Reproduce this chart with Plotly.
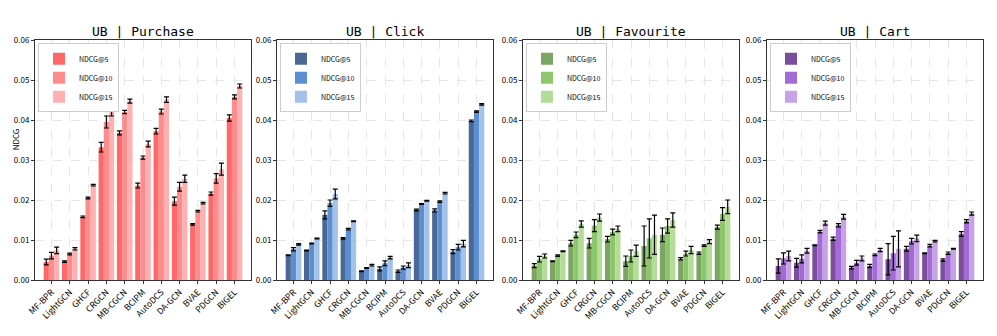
import plotly.graph_objects as go

# methods on the x axis
methods = ["MF-BPR", "LightGCN", "GHCF", "CRGCN", "MB-CGCN", "BCIPM",
           "AutoDCS", "DA-GCN", "BVAE", "PDGCN", "BIGEL"]
metrics = ["NDCG@5", "NDCG@10", "NDCG@15"]
y_ticks = [0.00, 0.01, 0.02, 0.03, 0.04, 0.05, 0.06]

# UB | Purchase
purchase_n5 = [0.0045, 0.0046, 0.0158, 0.0332, 0.0368, 0.0236, 0.0372, 0.0197, 0.0139, 0.0216, 0.0405]
purchase_n10 = [0.0061, 0.0065, 0.0205, 0.0395, 0.0420, 0.0306, 0.0421, 0.0233, 0.0172, 0.0254, 0.0458]
purchase_n15 = [0.0074, 0.0078, 0.0237, 0.0428, 0.0447, 0.0340, 0.0451, 0.0253, 0.0192, 0.0277, 0.0485]
purchase_e5 = [0.0007, 0.0002, 0.0002, 0.0012, 0.0005, 0.0006, 0.0007, 0.0010, 0.0002, 0.0004, 0.0008]
purchase_e10 = [0.0008, 0.0002, 0.0002, 0.0015, 0.0004, 0.0004, 0.0006, 0.0011, 0.0002, 0.0012, 0.0005]
purchase_e15 = [0.0008, 0.0003, 0.0002, 0.0018, 0.0005, 0.0007, 0.0007, 0.0009, 0.0002, 0.0015, 0.0005]

# UB | Click
click_n5 = [0.0062, 0.0074, 0.0163, 0.0104, 0.0022, 0.0028, 0.0022, 0.0175, 0.0174, 0.0071, 0.0398]
click_n10 = [0.0077, 0.0091, 0.0192, 0.0127, 0.0030, 0.0042, 0.0031, 0.0190, 0.0196, 0.0082, 0.0421]
click_n15 = [0.0089, 0.0104, 0.0215, 0.0147, 0.0037, 0.0056, 0.0037, 0.0198, 0.0217, 0.0091, 0.0439]
click_e5 = [0.0001, 0.0001, 0.0010, 0.0002, 0.0001, 0.0005, 0.0003, 0.0002, 0.0004, 0.0005, 0.0002]
click_e10 = [0.0004, 0.0001, 0.0008, 0.0002, 0.0001, 0.0006, 0.0004, 0.0001, 0.0002, 0.0007, 0.0002]
click_e15 = [0.0002, 0.0001, 0.0012, 0.0001, 0.0002, 0.0003, 0.0006, 0.0001, 0.0002, 0.0008, 0.0002]

# UB | Favourite
fav_n5 = [0.0036, 0.0047, 0.0092, 0.0092, 0.0102, 0.0047, 0.0085, 0.0113, 0.0053, 0.0067, 0.0132]
fav_n10 = [0.0052, 0.0061, 0.0113, 0.0136, 0.0120, 0.0060, 0.0104, 0.0135, 0.0066, 0.0086, 0.0165]
fav_n15 = [0.0060, 0.0072, 0.0140, 0.0156, 0.0128, 0.0073, 0.0113, 0.0150, 0.0075, 0.0096, 0.0183]
fav_e5 = [0.0005, 0.0001, 0.0007, 0.0012, 0.0007, 0.0013, 0.0050, 0.0017, 0.0003, 0.0003, 0.0005]
fav_e10 = [0.0007, 0.0002, 0.0007, 0.0015, 0.0007, 0.0015, 0.0049, 0.0018, 0.0006, 0.0002, 0.0016]
fav_e15 = [0.0005, 0.0001, 0.0008, 0.0009, 0.0007, 0.0014, 0.0049, 0.0018, 0.0009, 0.0005, 0.0017]

# UB | Cart
cart_n5 = [0.0035, 0.0043, 0.0087, 0.0103, 0.0031, 0.0035, 0.0052, 0.0078, 0.0067, 0.0050, 0.0115]
cart_n10 = [0.0054, 0.0053, 0.0121, 0.0137, 0.0043, 0.0063, 0.0067, 0.0097, 0.0086, 0.0067, 0.0147]
cart_n15 = [0.0060, 0.0073, 0.0142, 0.0158, 0.0054, 0.0075, 0.0078, 0.0104, 0.0097, 0.0078, 0.0166]
cart_e5 = [0.0018, 0.0011, 0.0001, 0.0004, 0.0003, 0.0004, 0.0039, 0.0006, 0.0001, 0.0003, 0.0006]
cart_e10 = [0.0014, 0.0010, 0.0003, 0.0004, 0.0006, 0.0002, 0.0042, 0.0007, 0.0003, 0.0003, 0.0004]
cart_e15 = [0.0012, 0.0006, 0.0005, 0.0006, 0.0006, 0.0004, 0.0045, 0.0008, 0.0002, 0.0001, 0.0004]

panels = [
    ("UB | Purchase", [purchase_n5, purchase_n10, purchase_n15],
     [purchase_e5, purchase_e10, purchase_e15], ["#ff6868", "#ff8c8c", "#ffb0b0"]),
    ("UB | Click", [click_n5, click_n10, click_n15],
     [click_e5, click_e10, click_e15], ["#4a6894", "#5b8fd2", "#a3c2ea"]),
    ("UB | Favourite", [fav_n5, fav_n10, fav_n15],
     [fav_e5, fav_e10, fav_e15], ["#7ba562", "#8ec76b", "#b4dc99"]),
    ("UB | Cart", [cart_n5, cart_n10, cart_n15],
     [cart_e5, cart_e10, cart_e15], ["#7a4e9c", "#a26bd6", "#c8a2e6"]),
]

W, H = 997, 336
OFF = 8  # page body margin
x_doms = [(35, 251), (277, 493), (523, 739), (767, 983)]
y_top, y_bot = 40, 280
y_dom = [1 - (y_bot - OFF) / H, 1 - (y_top - OFF) / H]
FONT = "Noto Sans CJK SC"

fig = go.Figure()
layout = dict(
    template="none",
    width=W, height=H, margin=dict(l=0, r=0, t=0, b=0, autoexpand=False),
    plot_bgcolor="white", paper_bgcolor="white",
    barmode="group", bargap=0.15, bargroupgap=0.0,
    font=dict(family=FONT, size=8, color="black"),
    annotations=[],
)

for i, (title, vals, errs, colors) in enumerate(panels):
    n = i + 1
    xa = "x" if n == 1 else f"x{n}"
    ya = "y" if n == 1 else f"y{n}"
    leg = "legend" if n == 1 else f"legend{n}"
    for m, v, e, c in zip(metrics, vals, errs, colors):
        fig.add_trace(go.Bar(
            x=methods, y=v, name=m, xaxis=xa, yaxis=ya, legend=leg,
            marker=dict(color=c, line=dict(width=0)),
            error_y=dict(type="data", array=e, color="black", thickness=1.2, width=2.5),
        ))
    x0, x1 = x_doms[i]
    xd = [(x0 - OFF) / W, (x1 - OFF) / W]
    layout["xaxis" if n == 1 else f"xaxis{n}"] = dict(
        domain=xd, anchor=ya, type="category", range=[-0.9, 10.9], automargin=False,
        showline=True, mirror=True, linecolor="#333", linewidth=1,
        ticks="outside", ticklen=3, tickcolor="#333", tickangle=-45,
        tickfont=dict(family=FONT, size=8.5),
        showgrid=True, gridcolor="#e6e6e6", griddash="dash", gridwidth=0.8,
        zeroline=False,
    )
    layout["yaxis" if n == 1 else f"yaxis{n}"] = dict(
        domain=y_dom, anchor=xa, range=[0, 0.06], tickvals=y_ticks, tickformat=".2f",
        automargin=False,
        showline=True, mirror=True, linecolor="#333", linewidth=1,
        ticks="outside", ticklen=3, tickcolor="#333",
        tickfont=dict(family=FONT, size=8),
        showgrid=True, gridcolor="#e6e6e6", griddash="dash", gridwidth=0.8,
        zeroline=False,
    )
    layout[leg] = dict(
        x=xd[0] + 0.003, y=y_dom[1] - 0.01, xanchor="left", yanchor="top",
        bgcolor="white", bordercolor="#cccccc", borderwidth=1,
        font=dict(family=FONT, size=7), tracegroupgap=0, itemwidth=30,
    )
    layout["annotations"].append(dict(
        text=title, x=(xd[0] + xd[1]) / 2, y=y_dom[1], xref="paper", yref="paper",
        xanchor="center", yanchor="bottom", showarrow=False, yshift=-1,
        font=dict(family="DejaVu Sans Mono", size=13, color="black"),
    ))

# y axis title, at the far left, between two tick labels so it stays clear of them
layout["annotations"].append(dict(
    text="NDCG", x=0, y=(y_dom[0] + y_dom[1]) / 2 + 0.06, xref="paper", yref="paper",
    xanchor="left", yanchor="middle", textangle=-90, showarrow=False,
    font=dict(family=FONT, size=8, color="black"),
))

fig.update_layout(**layout)
fig.write_html("out.html")
